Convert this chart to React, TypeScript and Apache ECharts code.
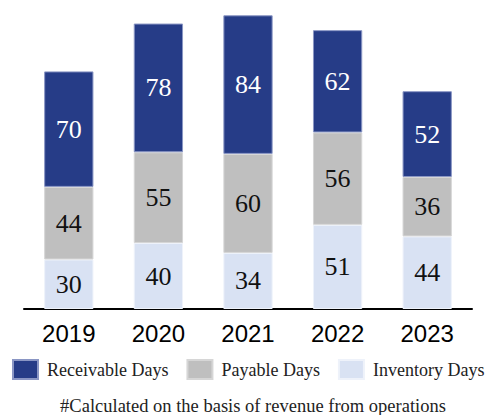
import React, { useEffect, useRef } from "react";
import * as echarts from "echarts";

const years = ["2019", "2020", "2021", "2022", "2023"];
const inventoryDays = [30, 40, 34, 51, 44];
const payableDays = [44, 55, 60, 56, 36];
const receivableDays = [70, 78, 84, 62, 52];
const footnote = "#Calculated on the basis of revenue from operations";

const serif = "'Liberation Serif', 'DejaVu Serif', serif";

export default function App() {
  const ref = useRef<HTMLDivElement>(null);
  useEffect(() => {
    if (!ref.current) return;
    const chart = echarts.init(ref.current, null, { renderer: "svg" });
    const labelStyle = (color: string) => ({
      show: true,
      position: "inside" as const,
      color,
      fontFamily: serif,
      fontSize: 26,
    });
    chart.setOption({
      animation: false,
      backgroundColor: "#ffffff",
      grid: { left: 24, right: 15, top: 12, bottom: 106 },
      xAxis: {
        type: "category",
        data: years,
        axisLine: { show: true, lineStyle: { color: "#000000", width: 2 } },
        axisTick: { show: false },
        axisLabel: {
          color: "#000000",
          fontFamily: "'Liberation Sans', Arial, sans-serif",
          fontSize: 24,
          margin: 12,
        },
      },
      yAxis: {
        type: "value",
        min: 0,
        max: 180,
        show: false,
        splitLine: { show: false },
      },
      legend: {
        data: ["Receivable Days", "Payable Days", "Inventory Days"],
        left: 12,
        top: 359,
        padding: 0,
        itemWidth: 25,
        itemHeight: 19,
        itemGap: 18,
        icon: "rect",
        textStyle: { fontFamily: serif, fontSize: 18, color: "#222222", padding: [0, 0, 0, 4] },
      },
      series: [
        {
          name: "Inventory Days",
          type: "bar",
          stack: "days",
          data: inventoryDays,
          barWidth: "55%",
          itemStyle: { color: "#D9E2F3", borderColor: "#eef2fa", borderWidth: 1 },
          label: labelStyle("#111111"),
        },
        {
          name: "Payable Days",
          type: "bar",
          stack: "days",
          data: payableDays,
          barWidth: "55%",
          itemStyle: { color: "#BFBFBF", borderColor: "#d6d6d6", borderWidth: 1 },
          label: labelStyle("#111111"),
        },
        {
          name: "Receivable Days",
          type: "bar",
          stack: "days",
          data: receivableDays,
          barWidth: "55%",
          itemStyle: { color: "#263C87", borderColor: "#8a96c4", borderWidth: 1 },
          label: labelStyle("#ffffff"),
        },
      ],
      graphic: [
        {
          type: "text",
          x: 253,
          y: 406,
          style: {
            text: footnote,
            fontFamily: serif,
            fontSize: 18.5,
            fill: "#222222",
            align: "center",
            verticalAlign: "middle",
          },
        },
      ],
    });
    return () => chart.dispose();
  }, []);
  return (
    <div
      ref={ref}
      style={{ position: "absolute", left: 0, top: 0, width: 487, height: 415 }}
    />
  );
}
